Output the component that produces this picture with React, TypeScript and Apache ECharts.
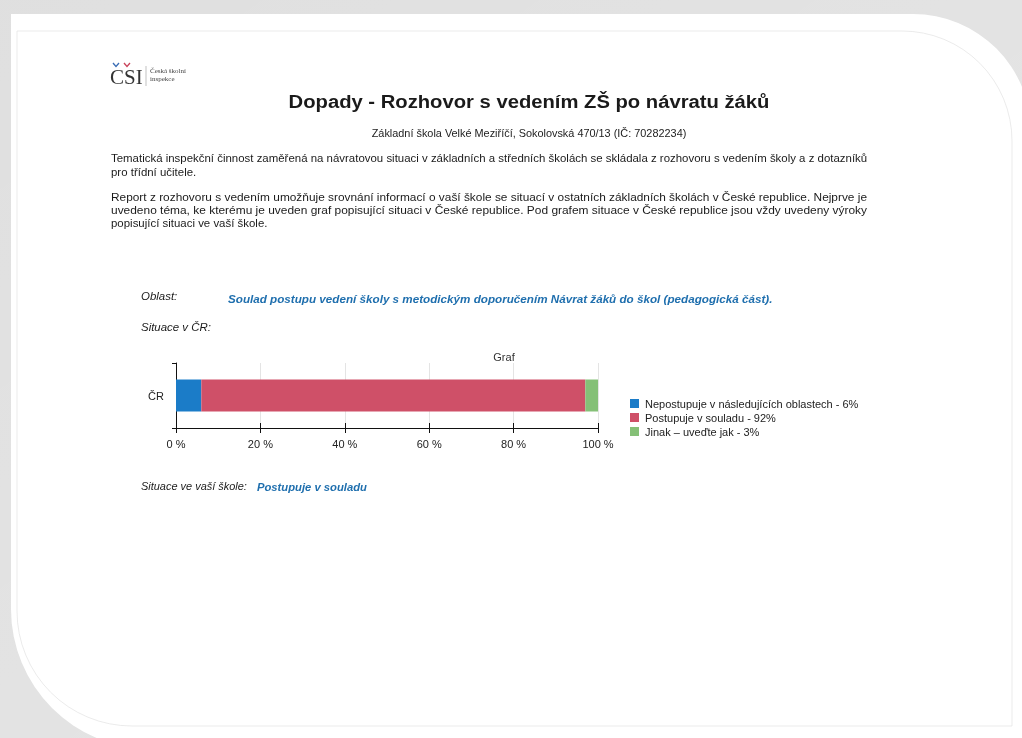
import React, { useEffect, useRef } from "react";
import * as echarts from "echarts";

const categories = ["ČR"];
const seriesNames = [
  "Nepostupuje v následujících oblastech - 6%",
  "Postupuje v souladu - 92%",
  "Jinak – uveďte jak - 3%",
];
const seriesValues = [6, 91, 3];
const seriesColors = ["#1b7cc8", "#cf5068", "#85c077"];
const axisMin = 0;
const axisMax = 100;
const axisInterval = 20;

const titleText = "Dopady - Rozhovor s vedením ZŠ po návratu žáků";
const subtitleText = "Základní škola Velké Meziříčí, Sokolovská 470/13 (IČ: 70282234)";
const para1 = [
  "Tematická inspekční činnost zaměřená na návratovou situaci v základních a středních školách se skládala z rozhovoru s vedením školy a z dotazníků",
  "pro třídní učitele.",
];
const para2 = [
  "Report z rozhovoru s vedením umožňuje srovnání informací o vaší škole se situací v ostatních základních školách v České republice. Nejprve je",
  "uvedeno téma, ke kterému je uveden graf popisující situaci v České republice. Pod grafem situace v České republice jsou vždy uvedeny výroky",
  "popisující situaci ve vaší škole.",
];
const areaLabel = "Oblast:";
const areaText = "Soulad postupu vedení školy s metodickým doporučením Návrat žáků do škol (pedagogická část).";
const crLabel = "Situace v ČR:";
const schoolLabel = "Situace ve vaší škole:";
const schoolText = "Postupuje v souladu";
const chartTitle = "Graf";

const FF = "'Liberation Sans', Arial, sans-serif";
const SERIF = "'Liberation Serif', 'Times New Roman', serif";

function measure(text: string, font: string): number {
  const c = document.createElement("canvas").getContext("2d");
  if (!c) return text.length * 5;
  c.font = font;
  return c.measureText(text).width;
}

function fitText(
  text: string,
  x: number,
  y: number,
  width: number | null,
  opts: { size: number; weight?: string; style?: string; fill?: string; align?: string; family?: string; scale?: number }
) {
  const weight = opts.weight || "normal";
  const fstyle = opts.style || "normal";
  const family = opts.family || FF;
  const font = `${fstyle} ${weight} ${opts.size}px ${family}`;
  let sx = opts.scale || 1;
  if (width !== null) sx = width / measure(text, font);
  return {
    type: "text",
    x,
    y,
    scaleX: sx,
    silent: true,
    style: {
      text,
      fontSize: opts.size,
      fontWeight: weight,
      fontStyle: fstyle,
      fontFamily: family,
      fill: opts.fill || "#1a1a1a",
      align: opts.align || "left",
      verticalAlign: "middle",
    },
  };
}

export default function App() {
  const ref = useRef<HTMLDivElement>(null);
  useEffect(() => {
    if (!ref.current) return;
    const chart = echarts.init(ref.current, null, { renderer: "svg" });

    const bodySize = 11;
    const bodyFont = `normal normal ${bodySize}px ${FF}`;
    const s1 = 757 / measure(para1[0], bodyFont);
    const s2a = 757 / measure(para2[0], bodyFont);
    const s2b = 757 / measure(para2[1], bodyFont);
    const sLast = Math.min(s1, s2a, s2b);

    const graphics: any[] = [
      { type: "rect", silent: true, shape: { x: 0, y: 0, width: 1022, height: 738 }, style: { fill: "#dadada" } },
      {
        type: "rect",
        silent: true,
        shape: { x: 0, y: 0, width: 1022, height: 738 },
        style: {
          fill: new echarts.graphic.LinearGradient(0, 0, 1, 1, [
            { offset: 0, color: "rgba(255,255,255,0.15)" },
            { offset: 1, color: "rgba(255,255,255,0.35)" },
          ]),
        },
      },
      {
        type: "rect",
        silent: true,
        shape: { x: 11, y: 14, width: 1020, height: 735, r: [0, 118, 0, 140] },
        style: { fill: "#ffffff" },
      },
      {
        type: "rect",
        silent: true,
        shape: { x: 17, y: 31, width: 995, height: 695, r: [0, 110, 0, 115] },
        style: { fill: "none", stroke: "#dedede", lineWidth: 0.6 },
      },
      {
        type: "line",
        silent: true,
        shape: { x1: 60, y1: 719, x2: 160, y2: 719 },
        style: {
          stroke: new echarts.graphic.LinearGradient(0, 0, 1, 0, [
            { offset: 0, color: "rgba(150,150,150,0.7)" },
            { offset: 1, color: "rgba(200,200,200,0.1)" },
          ]),
          lineWidth: 1.5,
        },
      },
      // logo
      fitText("CSI", 110, 77, null, { size: 21, family: SERIF, fill: "#333" }),
      { type: "polyline", silent: true, shape: { points: [[113, 63], [116, 66.5], [119, 63]] }, style: { stroke: "#3a6db5", lineWidth: 1.3, fill: "none" } },
      { type: "polyline", silent: true, shape: { points: [[124, 63], [127, 66.5], [130, 63]] }, style: { stroke: "#c9435a", lineWidth: 1.3, fill: "none" } },
      { type: "line", silent: true, shape: { x1: 146, y1: 66, x2: 146, y2: 86 }, style: { stroke: "#999", lineWidth: 0.6 } },
      fitText("Česká školní", 150, 71, null, { size: 7, family: SERIF, fill: "#444" }),
      fitText("inspekce", 150, 79, null, { size: 7, family: SERIF, fill: "#444" }),
      // title
      fitText(titleText, 529, 101, 481, { size: 19, weight: "bold", align: "center", fill: "#1a1a1a" }),
      fitText(subtitleText, 529, 133, 315, { size: 10.5, align: "center", fill: "#222" }),
      // paragraphs
      fitText(para1[0], 111, 158, 757, { size: bodySize }),
      fitText(para1[1], 111, 172, null, { size: bodySize, scale: sLast }),
      fitText(para2[0], 111, 197, 757, { size: bodySize }),
      fitText(para2[1], 111, 210, 757, { size: bodySize }),
      fitText(para2[2], 111, 223, null, { size: bodySize, scale: sLast }),
      // area
      fitText(areaLabel, 141, 296, null, { size: bodySize, style: "italic", scale: sLast }),
      fitText(areaText, 228, 299, 545, { size: 11.5, weight: "bold", style: "italic", fill: "#1f6fae" }),
      fitText(crLabel, 141, 327, null, { size: bodySize, style: "italic", scale: sLast }),
      fitText(chartTitle, 504, 357, null, { size: 11, align: "center", fill: "#333" }),
      fitText(schoolLabel, 141, 486, 106, { size: bodySize, style: "italic" }),
      fitText(schoolText, 257, 487, 110, { size: bodySize, weight: "bold", style: "italic", fill: "#1f6fae" }),
    ];

    const option: any = {
      animation: false,
      backgroundColor: "transparent",
      graphic: { elements: graphics },
      legend: {
        orient: "vertical",
        left: 625,
        top: 393,
        itemWidth: 9,
        itemHeight: 9,
        itemGap: 3,
        icon: "rect",
        data: seriesNames,
        textStyle: { fontSize: 11, fontFamily: FF, color: "#222", padding: [0, 0, 0, 1] },
      },
      grid: { left: 176, top: 363, width: 422, height: 65, containLabel: false },
      xAxis: [
        {
          type: "value",
          min: axisMin,
          max: axisMax,
          interval: axisInterval,
          axisLine: { show: true, lineStyle: { color: "#111", width: 1 } },
          axisTick: { show: true, length: 5, lineStyle: { color: "#111" } },
          axisLabel: { formatter: "{value} %", fontSize: 11, fontFamily: FF, color: "#222", margin: 10 },
          splitLine: { show: true, lineStyle: { color: "#e4e4e4", width: 1 } },
        },
        {
          type: "value",
          min: axisMin,
          max: axisMax,
          interval: axisInterval,
          position: "bottom",
          axisLine: { show: false },
          axisTick: { show: true, inside: true, length: 5, lineStyle: { color: "#111" } },
          axisLabel: { show: false },
          splitLine: { show: false },
        },
      ],
      yAxis: {
        type: "category",
        data: categories,
        axisLine: { show: true, lineStyle: { color: "#111", width: 1 } },
        axisTick: { show: true, length: 4, lineStyle: { color: "#111" } },
        axisLabel: { fontSize: 11, fontFamily: FF, color: "#222", margin: 12 },
      },
      series: seriesNames.map((name, i) => ({
        name,
        type: "bar",
        stack: "total",
        xAxisIndex: 0,
        barWidth: 32,
        data: [seriesValues[i]],
        itemStyle: { color: seriesColors[i] },
        emphasis: { disabled: true },
      })),
    };
    chart.setOption(option);
    return () => chart.dispose();
  }, []);
  return (
    <div
      ref={ref}
      style={{ position: "fixed", left: 0, top: 0, width: 1022, height: 738 }}
    />
  );
}
